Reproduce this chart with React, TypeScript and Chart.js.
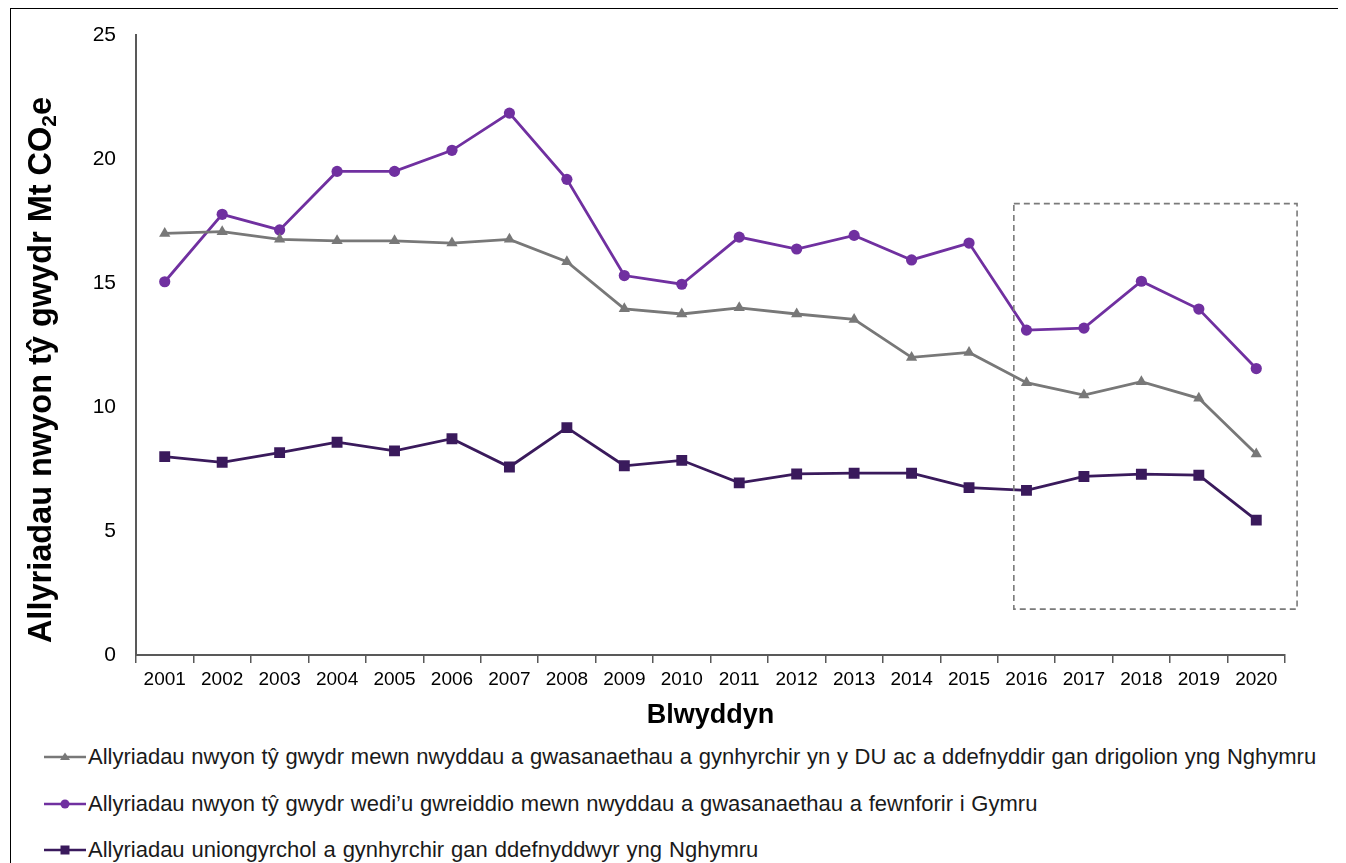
import React, { useEffect, useRef } from "react";
import { Chart, registerables } from "chart.js";

Chart.register(...registerables);

const years = ["2001", "2002", "2003", "2004", "2005", "2006", "2007", "2008", "2009", "2010", "2011", "2012", "2013", "2014", "2015", "2016", "2017", "2018", "2019", "2020"];
const ukProducedValues = [17.0, 17.07, 16.76, 16.7, 16.7, 16.61, 16.76, 15.86, 13.96, 13.75, 14.0, 13.75, 13.53, 12.0, 12.2, 10.98, 10.48, 11.02, 10.35, 8.1];
const importedValues = [15.05, 17.77, 17.14, 19.5, 19.5, 20.35, 21.85, 19.18, 15.3, 14.95, 16.85, 16.37, 16.92, 15.93, 16.61, 13.1, 13.18, 15.07, 13.95, 11.55];
const directValues = [8.0, 7.77, 8.16, 8.58, 8.23, 8.72, 7.58, 9.17, 7.63, 7.85, 6.94, 7.3, 7.33, 7.33, 6.75, 6.64, 7.2, 7.29, 7.25, 5.44];
const yTickValues = [0, 5, 10, 15, 20, 25];
const seriesLabels = [
  "Allyriadau nwyon tŷ gwydr mewn nwyddau a gwasanaethau a gynhyrchir yn y DU ac a ddefnyddir gan drigolion yng Nghymru",
  "Allyriadau nwyon tŷ gwydr wedi’u gwreiddio mewn nwyddau a gwasanaethau a fewnforir i Gymru",
  "Allyriadau uniongyrchol a gynhyrchir gan ddefnyddwyr yng Nghymru",
];
const yTitleParts = ["Allyriadau nwyon tŷ gwydr Mt CO", "2", "e"];
const xTitle = "Blwyddyn";
const highlightYears = ["2016", "2020"];
const highlightValueRange = [1.85, 18.2];

const GRAY = "#787878";
const PURPLE = "#7030a0";
const DARK = "#3a1a5c";
const FONT = "'Liberation Sans', Arial, sans-serif";

const boxPlugin = {
  id: "highlightBox",
  afterDatasetsDraw(chart: any) {
    const xs = chart.scales.x;
    const ys = chart.scales.y;
    const i0 = years.indexOf(highlightYears[0]);
    const i1 = years.indexOf(highlightYears[1]);
    const left = xs.getPixelForValue(i0 - 0.22);
    const right = xs.getPixelForValue(i1 + 0.71);
    const top = ys.getPixelForValue(highlightValueRange[1]);
    const bottom = ys.getPixelForValue(highlightValueRange[0]);
    const ctx = chart.ctx;
    ctx.save();
    ctx.strokeStyle = "#7a7a7a";
    ctx.lineWidth = 1.6;
    ctx.setLineDash([6, 4]);
    ctx.strokeRect(left, top, right - left, bottom - top);
    ctx.restore();
  },
};

const yTitlePlugin = {
  id: "yTitle",
  afterDraw(chart: any) {
    const ctx = chart.ctx;
    const area = chart.chartArea;
    const big = `bold 32.5px ${FONT}`;
    const small = `bold 21px ${FONT}`;
    ctx.save();
    ctx.font = big;
    const w0 = ctx.measureText(yTitleParts[0]).width;
    const w2 = ctx.measureText(yTitleParts[2]).width;
    ctx.font = small;
    const w1 = ctx.measureText(yTitleParts[1]).width;
    const total = w0 + w1 + w2;
    const cx = 29;
    const cy = (area.top + area.bottom) / 2 + 25;
    ctx.translate(cx, cy);
    ctx.rotate(-Math.PI / 2);
    ctx.fillStyle = "#000";
    ctx.textBaseline = "alphabetic";
    ctx.textAlign = "left";
    let x = -total / 2;
    const base = 11;
    ctx.font = big;
    ctx.fillText(yTitleParts[0], x, base);
    x += w0;
    ctx.font = small;
    ctx.fillText(yTitleParts[1], x, base + 5);
    x += w1;
    ctx.font = big;
    ctx.fillText(yTitleParts[2], x, base);
    ctx.restore();
  },
};

function LegendIcon({ kind, color }: { kind: string; color: string }) {
  return (
    <svg width="42" height="16" style={{ display: "block", flex: "0 0 auto" }}>
      <line x1="0" y1="8" x2="42" y2="8" stroke={color} strokeWidth="2.5" />
      {kind === "triangle" && <polygon points="21,3.5 26,11 16,11" fill={color} />}
      {kind === "circle" && <circle cx="21" cy="8" r="4.5" fill={color} />}
      {kind === "square" && <rect x="16.5" y="3.5" width="9" height="9" fill={color} />}
    </svg>
  );
}

export default function App() {
  const ref = useRef<HTMLCanvasElement | null>(null);

  useEffect(() => {
    if (!ref.current) return;
    const chart = new Chart(ref.current, {
      type: "line",
      data: {
        labels: years,
        datasets: [
          {
            label: seriesLabels[0],
            data: ukProducedValues,
            borderColor: GRAY,
            backgroundColor: GRAY,
            borderWidth: 2.8,
            pointStyle: "triangle",
            pointRadius: 6.5,
            pointBorderWidth: 0,
            tension: 0,
          },
          {
            label: seriesLabels[1],
            data: importedValues,
            borderColor: PURPLE,
            backgroundColor: PURPLE,
            borderWidth: 2.8,
            pointStyle: "circle",
            pointRadius: 5.6,
            pointBorderWidth: 0,
            tension: 0,
          },
          {
            label: seriesLabels[2],
            data: directValues,
            borderColor: DARK,
            backgroundColor: DARK,
            borderWidth: 2.8,
            pointStyle: "rect",
            pointRadius: 7.7,
            pointBorderWidth: 0,
            tension: 0,
          },
        ],
      },
      options: {
        animation: false,
        responsive: false,
        maintainAspectRatio: false,
        layout: { padding: { top: 26, right: 55, left: 0, bottom: 0 } },
        plugins: {
          legend: { display: false },
          tooltip: { enabled: false },
        },
        scales: {
          x: {
            type: "category",
            offset: true,
            grid: {
              display: true,
              offset: true,
              drawOnChartArea: false,
              drawTicks: true,
              tickLength: 8,
              color: "#595959",
              lineWidth: 1.5,
            },
            border: { display: true, color: "#595959", width: 2 },
            ticks: {
              color: "#000",
              font: { family: FONT, size: 19 },
              padding: 5,
              maxRotation: 0,
              autoSkip: false,
            },
            title: {
              display: true,
              text: xTitle,
              color: "#000",
              font: { family: FONT, size: 27, weight: "bold" },
              padding: { top: 4, bottom: 2 },
            },
            afterFit(scale: any) {
              scale.height = 79;
              scale.paddingLeft = 0;
              scale.paddingRight = 0;
            },
          },
          y: {
            min: 0,
            max: 25,
            afterBuildTicks(scale: any) {
              scale.ticks = yTickValues.map((v) => ({ value: v }));
            },
            grid: { display: true, drawOnChartArea: false, drawTicks: false },
            border: { display: true, color: "#595959", width: 2 },
            ticks: {
              color: "#000",
              font: { family: FONT, size: 21 },
              padding: 20,
            },
            afterFit(scale: any) {
              scale.width = 125;
              scale.paddingTop = 0;
              scale.paddingBottom = 0;
            },
          },
        },
      },
      plugins: [boxPlugin, yTitlePlugin],
    } as any);
    return () => chart.destroy();
  }, []);

  const icons = [
    { kind: "triangle", color: GRAY },
    { kind: "circle", color: PURPLE },
    { kind: "square", color: DARK },
  ];
  const wordSpacings = [0.6, 0.6, 0.9];

  return (
    <div
      style={{
        marginLeft: 2,
        border: "1px solid #000",
        width: 1329,
        height: 880,
        boxSizing: "content-box",
        background: "#fff",
        fontFamily: FONT,
      }}
    >
      <canvas ref={ref} width={1329} height={725} style={{ display: "block", width: 1329, height: 725 }} />
      <div style={{ paddingLeft: 33 }}>
        {seriesLabels.map((label, i) => (
          <div key={i} style={{ height: 46.5, display: "flex", alignItems: "center" }}>
            <LegendIcon kind={icons[i].kind} color={icons[i].color} />
            <span style={{ fontSize: 22, color: "#1a1a1a", whiteSpace: "pre", marginLeft: 2, wordSpacing: wordSpacings[i] }}>{label}</span>
          </div>
        ))}
      </div>
    </div>
  );
}
